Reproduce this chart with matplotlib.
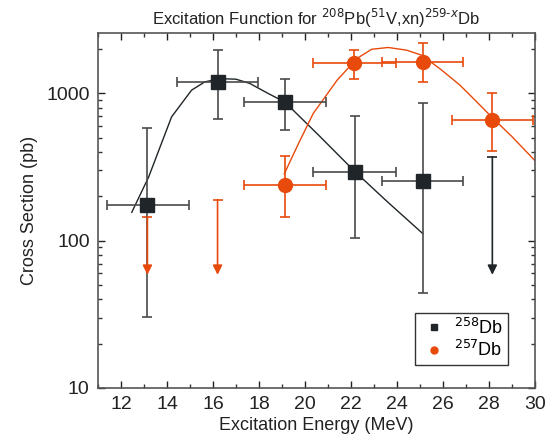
import matplotlib
matplotlib.use("Agg")
import matplotlib.pyplot as plt
from matplotlib.ticker import MultipleLocator, LogLocator, NullFormatter, FixedLocator

plt.rcParams['font.family'] = ['Liberation Sans', 'DejaVu Sans']

BLACK = "#1f2528"
ORANGE = "#e84a0c"
BARGREY = "#4a4a4a"

# 258Db measured points
db258_x = [13.15, 16.2, 19.13, 22.17, 25.12]
db258_y = [175, 1190, 873, 295, 255]
db258_xlo = [11.38, 14.42, 17.36, 20.36, 23.33]
db258_xhi = [14.95, 17.97, 20.93, 23.94, 26.88]
db258_ylo = [30.5, 673, 566, 105, 44]
db258_yhi = [585, 1977, 1250, 698, 863]

# 257Db measured points
db257_x = [19.13, 22.15, 25.12, 28.15]
db257_y = [239, 1600, 1623, 656]
db257_xlo = [17.36, 20.36, 23.33, 26.38]
db257_xhi = [20.93, 23.94, 26.88, 29.9]
db257_ylo = [146, 1250, 1188, 408]
db257_yhi = [378, 1968, 2200, 1000]

# upper limits
lim257_x = [13.15, 16.2]
lim257_top = [146, 190]
lim258_x = [28.15]
lim258_top = [372]
lim_tip = 58.7

# calculated curves
fit258_x = [12.47, 13.2, 14.2, 15.07, 15.65, 16.3, 17.0, 17.6, 18.4, 19.13, 20.6, 22.17, 23.6, 25.12]
fit258_y = [156, 270, 693, 1053, 1199, 1260, 1250, 1170, 1000, 873, 520, 295, 183, 112]
fit257_x = [19.1, 19.7, 20.36, 21.4, 22.27, 22.9, 23.62, 24.42, 25.07, 25.9, 26.74, 27.4, 28.12, 29.0, 30.0]
fit257_y = [284, 450, 731, 1231, 1730, 1995, 2052, 1968, 1820, 1460, 1139, 900, 692, 510, 350]

fig = plt.figure(figsize=(5.52, 4.47), dpi=100)
ax = fig.add_axes([0.1775, 0.132, 0.7915, 0.794])

ax.plot(fit258_x, fit258_y, color=BLACK, lw=1.0, zorder=2)
ax.plot(fit257_x, fit257_y, color=ORANGE, lw=1.0, zorder=2)


def errs(v, lo, hi):
    return [[a - b for a, b in zip(v, lo)], [b - a for a, b in zip(v, hi)]]


ax.errorbar(db258_x, db258_y, xerr=errs(db258_x, db258_xlo, db258_xhi),
            yerr=errs(db258_y, db258_ylo, db258_yhi), fmt="none",
            ecolor=BARGREY, elinewidth=1.2, capsize=3.5, capthick=1.2, zorder=3)
ax.errorbar(db257_x, db257_y, xerr=errs(db257_x, db257_xlo, db257_xhi),
            yerr=errs(db257_y, db257_ylo, db257_yhi), fmt="none",
            ecolor=ORANGE, elinewidth=1.2, capsize=3.5, capthick=1.2, zorder=3)

for xs, tops, col in [(lim257_x, lim257_top, ORANGE), (lim258_x, lim258_top, BLACK)]:
    for x, t in zip(xs, tops):
        ax.annotate("", xy=(x, lim_tip), xytext=(x, t),
                    arrowprops=dict(arrowstyle="-|>", color=col, lw=1.2,
                                    mutation_scale=14, shrinkA=0, shrinkB=0))
        ax.plot([x], [t], marker="_", ms=7, mew=1.2, color=col)

ax.plot(db258_x, db258_y, "s", color=BLACK, ms=9.5, zorder=4, label="$^{258}$Db")
ax.plot(db257_x, db257_y, "o", color=ORANGE, ms=10, zorder=4, label="$^{257}$Db")

ax.set_yscale("log")
ax.set_xlim(11, 30)
ax.set_ylim(10, 2570)
ax.xaxis.set_major_locator(MultipleLocator(2))
ax.xaxis.set_minor_locator(MultipleLocator(1))
ax.yaxis.set_major_locator(FixedLocator([10, 100, 1000]))
ax.yaxis.set_minor_locator(LogLocator(base=10, subs=range(2, 10)))
ax.yaxis.set_minor_formatter(NullFormatter())
ax.set_yticklabels(["10", "100", "1000"])

ax.tick_params(which="both", direction="in", top=True, right=True, color="#333333")
ax.tick_params(which="major", length=5, width=1, labelsize=14, colors="#222222", pad=6)
ax.tick_params(which="minor", length=3, width=1)
for s in ax.spines.values():
    s.set_color("#555555")
    s.set_linewidth(1.2)

ax.set_xlabel("Excitation Energy (MeV)", fontsize=13, color="#222222", labelpad=3)
ax.set_ylabel("Cross Section (pb)", fontsize=13, color="#222222", labelpad=6)
ax.set_title("Excitation Function for $^{208}$Pb($^{51}$V,xn)$^{259\\text{-}x}$Db",
             fontsize=12, color="#222222", pad=6)

leg = ax.legend(loc="lower right", bbox_to_anchor=(0.938, 0.065), fontsize=13,
                markerscale=0.5, frameon=True, fancybox=False, handlelength=1.6,
                handletextpad=0.3, borderpad=0.25, labelspacing=0.15,
                borderaxespad=0, framealpha=1)
leg.get_frame().set_edgecolor("#333333")
leg.get_frame().set_linewidth(1.0)

fig.savefig("out.png", dpi=100)
